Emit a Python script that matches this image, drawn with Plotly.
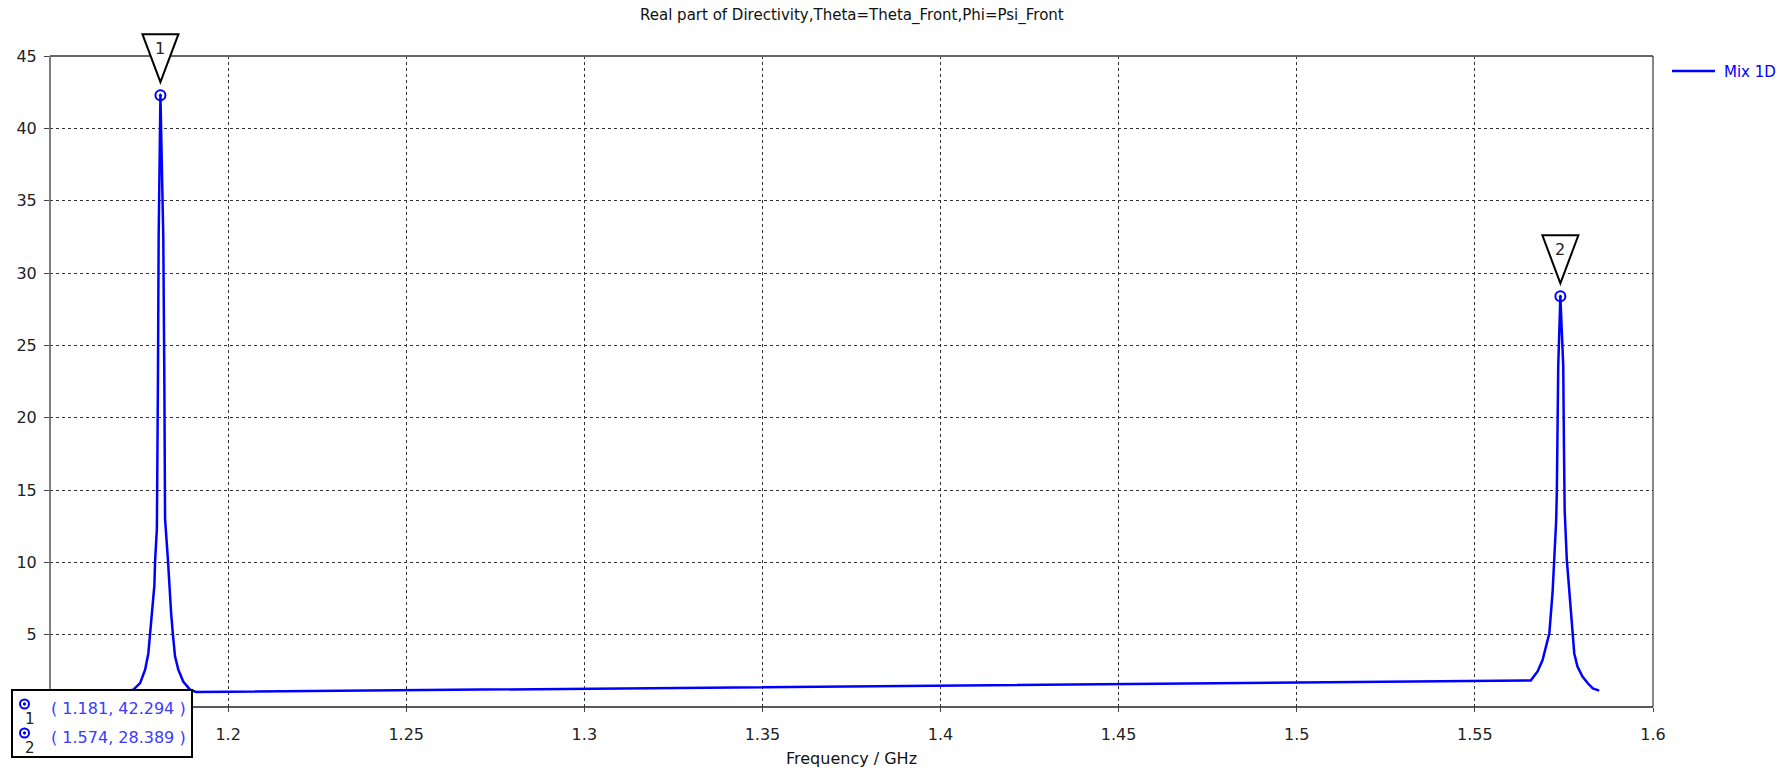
import plotly.graph_objects as go

# Sweep data: frequency (GHz) and real part of directivity
freq_ghz = [
    1.1700, 1.1720, 1.1734, 1.1753, 1.1767, 1.1776, 1.1781, 1.1787, 1.1793, 1.1795,
    1.1800, 1.1803, 1.1805, 1.1810, 1.1818, 1.1821, 1.1823, 1.1831, 1.1835, 1.1840,
    1.1845, 1.1851, 1.1860, 1.1874, 1.1893, 1.1910,
    1.2000, 1.2500, 1.3000, 1.3500, 1.4000, 1.4500, 1.5000, 1.5500, 1.5645,
    1.5657, 1.5662, 1.5676, 1.5690, 1.5702, 1.5709, 1.5718, 1.5723, 1.5726, 1.5728,
    1.5730, 1.5732, 1.5734, 1.5740,
    1.5748, 1.5750, 1.5752, 1.5758, 1.5765, 1.5770, 1.5774, 1.5779, 1.5788, 1.5802,
    1.5817, 1.5831, 1.5849,
]
directivity = [
    1.02, 1.10, 1.20, 1.65, 2.58, 3.70, 5.00, 6.50, 8.40, 10.10,
    12.30, 22.50, 32.50, 42.294, 32.50, 22.50, 13.00, 10.20, 8.20, 6.50,
    5.00, 3.50, 2.60, 1.76, 1.20, 1.04,
    1.05, 1.15, 1.25, 1.35, 1.45, 1.55, 1.65, 1.76, 1.81,
    1.83, 2.00, 2.46, 3.25, 4.30, 5.10, 7.90, 10.20, 11.80, 12.80,
    14.80, 18.10, 23.60, 28.389,
    23.60, 18.10, 13.60, 10.20, 7.90, 6.00, 5.10, 3.70, 2.80, 2.10,
    1.64, 1.29, 1.13,
]

# Marker readouts
marker_ids = ["1", "2"]
marker_freq = [1.181, 1.574]
marker_val = [42.294, 28.389]

series_name = "Mix 1D"
x_range = [1.15, 1.6]
y_range = [0, 45]
x_ticks = [1.2, 1.25, 1.3, 1.35, 1.4, 1.45, 1.5, 1.55, 1.6]
x_tick_text = ["1.2", "1.25", "1.3", "1.35", "1.4", "1.45", "1.5", "1.55", "1.6"]
y_ticks = [5, 10, 15, 20, 25, 30, 35, 40, 45]

W, H = 1783, 771
L, R, T, B = 50, 130, 56, 64
PW, PH = W - L - R, H - T - B

FONT = "DejaVu Sans"
BLUE = "#0000ff"


def px_x(px):
    return (px - L) / PW


def px_y(py):
    return (H - B - py) / PH


def val_to_paper_y(v):
    return (v - y_range[0]) / (y_range[1] - y_range[0])


fig = go.Figure()

fig.add_trace(go.Scatter(
    x=freq_ghz, y=directivity, mode="lines", name=series_name,
    line=dict(color=BLUE, width=2.5), hoverinfo="x+y", showlegend=False,
))

fig.add_trace(go.Scatter(
    x=marker_freq, y=marker_val, mode="markers", showlegend=False,
    marker=dict(symbol="circle-open-dot", size=10, color=BLUE,
                line=dict(color=BLUE, width=2)),
))

shapes = []
annotations = []

# Plot frame
shapes += [
    dict(type="line", xref="paper", yref="paper", x0=0, x1=1, y0=1, y1=1,
         line=dict(color="#666666", width=2)),
    dict(type="line", xref="paper", yref="paper", x0=0, x1=0, y0=0, y1=1,
         line=dict(color="#555555", width=1.5)),
    dict(type="line", xref="paper", yref="paper", x0=0, x1=1, y0=0, y1=0,
         line=dict(color="#222222", width=1.5)),
    dict(type="line", xref="paper", yref="paper", x0=1, x1=1, y0=0, y1=1,
         line=dict(color="#111111", width=1)),
]

# Marker flags: inverted triangles above each marked point
for mid, fx, fy in zip(marker_ids, marker_freq, marker_val):
    shapes.append(dict(
        type="path", xref="x", yref="paper",
        xsizemode="pixel", ysizemode="pixel",
        xanchor=fx, yanchor=val_to_paper_y(fy),
        path="M -18,61 L 18,61 L 0,13 Z",
        line=dict(color="black", width=2), fillcolor="white",
    ))
    annotations.append(dict(
        x=fx, y=fy, xref="x", yref="y", text=mid, showarrow=False,
        yshift=47, font=dict(family=FONT, size=16, color="#222222"),
    ))

# Legend entry
shapes.append(dict(
    type="line", xref="paper", yref="paper",
    x0=px_x(1672), x1=px_x(1715), y0=px_y(71), y1=px_y(71),
    line=dict(color=BLUE, width=2.5),
))
annotations.append(dict(
    x=px_x(1722), y=px_y(72), xref="paper", yref="paper", text=series_name,
    showarrow=False, xanchor="left", yanchor="middle",
    font=dict(family=FONT, size=15, color=BLUE),
))

# Marker readout box
shapes.append(dict(
    type="rect", xref="paper", yref="paper",
    x0=px_x(12), x1=px_x(192), y0=px_y(757), y1=px_y(690),
    line=dict(color="black", width=2), fillcolor="white",
))
row_y = [708, 737]
for mid, fx, fy, ry in zip(marker_ids, marker_freq, marker_val, row_y):
    cx, cy = 24.5, ry - 4
    shapes.append(dict(
        type="circle", xref="paper", yref="paper",
        x0=px_x(cx - 4.5), x1=px_x(cx + 4.5), y0=px_y(cy + 4.5), y1=px_y(cy - 4.5),
        line=dict(color=BLUE, width=2), fillcolor="rgba(0,0,0,0)",
    ))
    shapes.append(dict(
        type="circle", xref="paper", yref="paper",
        x0=px_x(cx - 1.2), x1=px_x(cx + 1.2), y0=px_y(cy + 1.2), y1=px_y(cy - 1.2),
        line=dict(color=BLUE, width=1), fillcolor=BLUE,
    ))
    annotations.append(dict(
        x=px_x(30), y=px_y(ry + 11), xref="paper", yref="paper", text=mid,
        showarrow=False, xanchor="center", yanchor="middle",
        font=dict(family=FONT, size=15, color="#222222"),
    ))
    annotations.append(dict(
        x=px_x(49), y=px_y(ry), xref="paper", yref="paper",
        text=f"( {fx:.3f}, {fy:.3f} )", showarrow=False,
        xanchor="left", yanchor="middle",
        font=dict(family=FONT, size=16, color="#3a3aff"),
    ))

# Chart title and axis title
annotations.append(dict(
    x=0.5, y=px_y(16), xref="paper", yref="paper",
    text="Real part of Directivity,Theta=Theta_Front,Phi=Psi_Front",
    showarrow=False, xanchor="center", yanchor="middle",
    font=dict(family=FONT, size=15, color="#111111"),
))
annotations.append(dict(
    x=0.5, y=px_y(758), xref="paper", yref="paper", text="Frequency / GHz",
    showarrow=False, xanchor="center", yanchor="middle",
    font=dict(family=FONT, size=16, color="#111111"),
))

grid = dict(showgrid=True, gridcolor="#333333", gridwidth=1, griddash="3px,3px")

fig.update_layout(
    width=W, height=H,
    margin=dict(l=L, r=R, t=T, b=B),
    paper_bgcolor="white", plot_bgcolor="white",
    font=dict(family=FONT, size=16, color="#222222"),
    xaxis=dict(range=x_range, tickvals=x_ticks, ticktext=x_tick_text,
               ticks="outside", ticklen=4, tickcolor="#444444", zeroline=False,
               showline=False, tickfont=dict(size=16), ticklabelstandoff=9, **grid),
    yaxis=dict(range=y_range, tickvals=y_ticks, ticks="outside", ticklen=5,
               tickcolor="#444444", zeroline=False, showline=False,
               tickfont=dict(size=16), ticklabelstandoff=4, **grid),
    shapes=shapes,
    annotations=annotations,
    showlegend=False,
)

fig.write_html("out.html")
